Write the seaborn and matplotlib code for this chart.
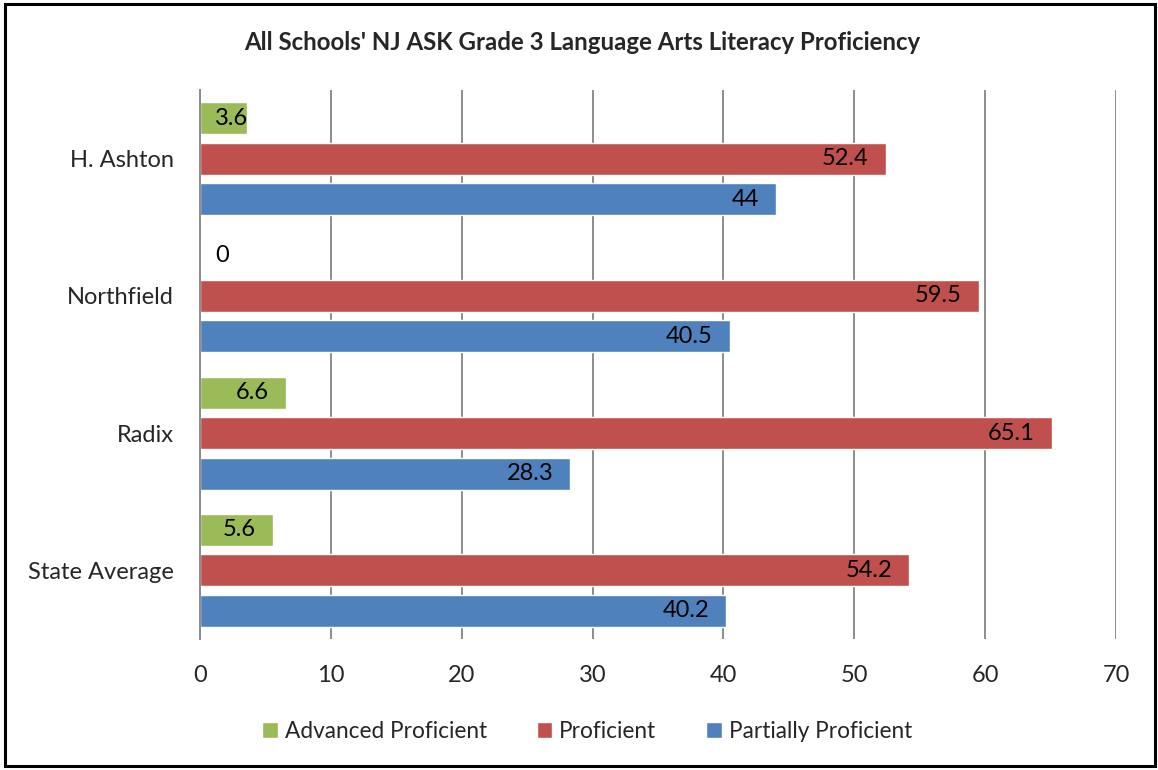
import pandas as pd
import matplotlib.pyplot as plt
import seaborn as sns
from matplotlib.patches import Rectangle

# data
schools = ["H. Ashton", "Northfield", "Radix", "State Average"]
levels = ["Advanced Proficient", "Proficient", "Partially Proficient"]
advanced = [3.6, 0, 6.6, 5.6]
proficient = [52.4, 59.5, 65.1, 54.2]
partially = [44, 40.5, 28.3, 40.2]
colors = ["#9BBB59", "#C0504D", "#4F81BD"]

df = pd.DataFrame({
    "school": schools * 3,
    "level": [lv for lv in levels for _ in schools],
    "value": advanced + proficient + partially,
})

sns.set_style("white")
plt.rcParams["font.family"] = ["Lato", "DejaVu Sans"]

fig = plt.figure(figsize=(11.58, 7.7), dpi=100)
ax = fig.add_axes([200 / 1158, 1 - 639 / 770, 916 / 1158, 549 / 770])

sns.barplot(
    data=df, x="value", y="school", hue="level",
    order=schools, hue_order=levels, palette=colors,
    orient="h", width=0.884, gap=0.21, saturation=1,
    errorbar=None, ax=ax,
)

handles, labels = ax.get_legend_handles_labels()
ax.get_legend().remove()

# data labels: inside end, pushed out when the bar is too short
for cont, vals in zip(ax.containers, [advanced, proficient, partially]):
    for bar, v in zip(cont, vals):
        yc = bar.get_y() + bar.get_height() / 2
        txt = f"{v:g}"
        if v < 5.0:
            ax.annotate(txt, (0, yc), xytext=(15, 0), textcoords="offset pixels",
                        ha="left", va="center", fontsize=17, color="black")
        else:
            ax.annotate(txt, (v, yc), xytext=(-17, 0), textcoords="offset pixels",
                        ha="right", va="center", fontsize=17, color="black")

ax.set_xlim(0, 70)
ax.set_xticks(range(0, 71, 10))
ax.set_xlabel("")
ax.set_ylabel("")
ax.grid(axis="x", color="#8C8C8C", linewidth=1.4)
ax.grid(axis="y", visible=False)
ax.set_axisbelow(True)
for side in ["top", "right", "bottom"]:
    ax.spines[side].set_visible(False)
ax.spines["left"].set_color("#8C8C8C")
ax.spines["left"].set_linewidth(1.4)
ax.tick_params(axis="x", length=0, pad=19, labelsize=17)
ax.tick_params(axis="y", length=0, pad=19, labelsize=17)

fig.text(582 / 1158, 1 - 43 / 770,
         "All Schools' NJ ASK Grade 3 Language Arts Literacy Proficiency",
         ha="center", va="center", fontsize=17.3, fontweight="bold")

fig.legend(handles, labels, loc="center", bbox_to_anchor=(587 / 1158, 1 - 731 / 770),
           ncol=3, frameon=False, fontsize=16.3, handlelength=0.7, handleheight=0.7,
           handletextpad=0.3, columnspacing=2.2)

# outer chart border
fig.patches.append(Rectangle((5 / 1158, 4 / 770), 1150 / 1158, 762 / 770,
                             transform=fig.transFigure, fill=False,
                             edgecolor="black", linewidth=2.2))

fig.savefig("out.png", dpi=100)
